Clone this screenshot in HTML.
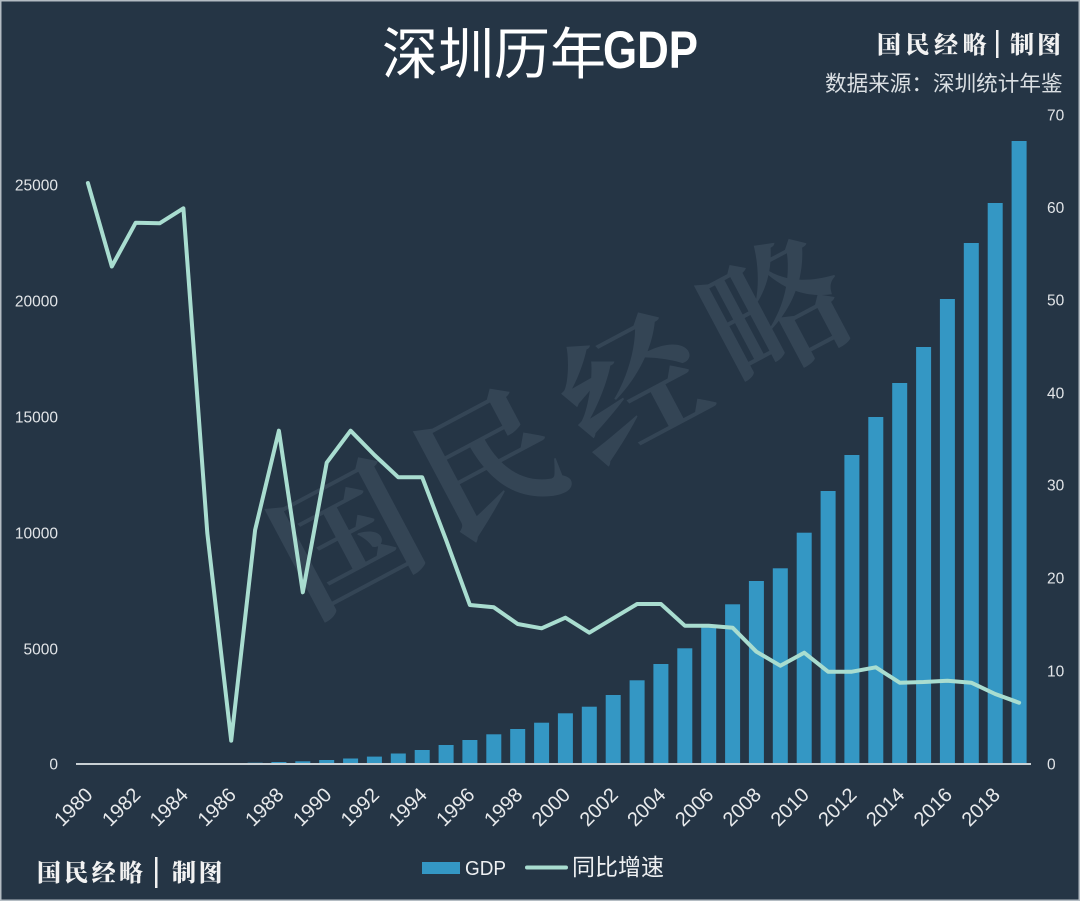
<!DOCTYPE html>
<html>
<head>
<meta charset="utf-8">
<style>
  html, body { margin:0; padding:0; background:#253545; }
  body { width:1080px; height:901px; overflow:hidden; }
  svg { display:block; }
  .num { font-family:"Liberation Sans", sans-serif; font-size:15.5px; fill:#e2e5e8; }
  .yr { font-family:"Liberation Sans", sans-serif; font-size:20px; fill:#e8eaec; }
  .cjk { font-family:"Liberation Sans","Noto Sans CJK SC", sans-serif; }
  .logo { font-family:"Noto Serif CJK SC","Liberation Serif", serif; font-weight:900; fill:#f2f2f2; }
</style>
</head>
<body>
<svg width="1080" height="901" viewBox="0 0 1080 901" xmlns="http://www.w3.org/2000/svg">
  <rect x="0" y="0" width="1080" height="901" fill="#253545"/>
  <rect x="0.75" y="0.75" width="1078.5" height="899.5" fill="none" stroke="#b4bcc3" stroke-width="1.5"/>

  <!-- watermark -->
  <text x="0" y="0" font-family="Noto Serif CJK SC, serif" font-weight="700" font-size="140" fill="#8fa3b3" fill-opacity="0.15" text-anchor="middle" letter-spacing="22" transform="translate(595,465) rotate(-28)">国民经略</text>

  <!-- title -->
  <text class="cjk" x="382" y="74" font-size="56" fill="#ffffff">深圳历年</text>
  <text x="603" y="68" font-family="Liberation Sans, sans-serif" font-weight="bold" font-size="53" fill="#ffffff" textLength="95" lengthAdjust="spacingAndGlyphs">GDP</text>

  <!-- top right logo -->
  <text class="logo" x="877" y="53" font-size="24" letter-spacing="4.5">国民经略</text>
  <rect x="996" y="30" width="2.5" height="28" fill="#f2f2f2"/>
  <text class="logo" x="1010" y="53" font-size="24" letter-spacing="3">制图</text>
  <text class="cjk" x="825" y="91" font-size="21.6" fill="#dadfe3">数据来源：深圳统计年鉴</text>

  <!-- left axis labels -->
  <g class="num" text-anchor="end">
    <text x="58" y="190.5">25000</text>
    <text x="58" y="306.5">20000</text>
    <text x="58" y="422.5">15000</text>
    <text x="58" y="538.5">10000</text>
    <text x="58" y="654.5">5000</text>
    <text x="58" y="769.5">0</text>
  </g>
  <!-- right axis labels -->
  <g class="num">
    <text x="1047" y="120.5">70</text>
    <text x="1047" y="213">60</text>
    <text x="1047" y="305.5">50</text>
    <text x="1047" y="398.5">40</text>
    <text x="1047" y="490.5">30</text>
    <text x="1047" y="583.5">20</text>
    <text x="1047" y="676.5">10</text>
    <text x="1047" y="769.5">0</text>
  </g>

  <!-- bars -->
  <g fill="#3497c4">
    <rect x="80.4" y="763.9" width="15" height="0.1"/>
    <rect x="104.3" y="763.9" width="15" height="0.1"/>
    <rect x="128.2" y="763.8" width="15" height="0.2"/>
    <rect x="152.1" y="763.7" width="15" height="0.3"/>
    <rect x="175.9" y="763.5" width="15" height="0.5"/>
    <rect x="199.8" y="763.1" width="15" height="0.9"/>
    <rect x="223.7" y="763.0" width="15" height="1.0"/>
    <rect x="247.6" y="762.7" width="15" height="1.3"/>
    <rect x="271.4" y="762.0" width="15" height="2.0"/>
    <rect x="295.3" y="761.3" width="15" height="2.7"/>
    <rect x="319.2" y="760.0" width="15" height="4.0"/>
    <rect x="343.1" y="758.5" width="15" height="5.5"/>
    <rect x="366.9" y="756.6" width="15" height="7.4"/>
    <rect x="390.8" y="753.5" width="15" height="10.5"/>
    <rect x="414.7" y="750" width="15" height="14"/>
    <rect x="438.6" y="745" width="15" height="19"/>
    <rect x="462.4" y="740" width="15" height="24"/>
    <rect x="486.3" y="734.3" width="15" height="29.7"/>
    <rect x="510.2" y="729" width="15" height="35"/>
    <rect x="534.1" y="722.7" width="15" height="41.3"/>
    <rect x="557.9" y="713.3" width="15" height="50.7"/>
    <rect x="581.8" y="706.7" width="15" height="57.3"/>
    <rect x="605.7" y="695" width="15" height="69"/>
    <rect x="629.6" y="680.3" width="15" height="83.7"/>
    <rect x="653.4" y="664" width="15" height="100"/>
    <rect x="677.3" y="648.3" width="15" height="115.7"/>
    <rect x="701.2" y="625" width="15" height="139"/>
    <rect x="725.1" y="604.3" width="15" height="159.7"/>
    <rect x="748.9" y="581" width="15" height="183"/>
    <rect x="772.8" y="568.3" width="15" height="195.7"/>
    <rect x="796.7" y="532.7" width="15" height="231.3"/>
    <rect x="820.6" y="491" width="15" height="273"/>
    <rect x="844.4" y="455" width="15" height="309"/>
    <rect x="868.3" y="417" width="15" height="347"/>
    <rect x="892.2" y="383" width="15" height="381"/>
    <rect x="916.1" y="347" width="15" height="417"/>
    <rect x="939.9" y="299" width="15" height="465"/>
    <rect x="963.8" y="243" width="15" height="521"/>
    <rect x="987.7" y="203" width="15" height="561"/>
    <rect x="1011.6" y="141" width="15" height="623"/>
  </g>

  <!-- axis line -->
  <line x1="76" y1="764" x2="1031" y2="764" stroke="#c9d0d4" stroke-width="2"/>

  <!-- growth line -->
  <polyline fill="none" stroke="#a9ddd0" stroke-width="4" stroke-linejoin="round" stroke-linecap="round"
    points="87.9,183 111.8,266.5 135.7,222.7 159.6,223.3 183.4,208.3 207.3,533 231.2,740.7 255.1,530 278.9,430.7 302.8,592.3 326.7,462.7 350.6,430.7 374.4,455 398.3,477.3 422.2,477.3 446.1,540 469.9,605 493.8,607.3 517.7,624 541.6,628.3 565.4,617.7 589.3,632.7 613.2,618.3 637.1,604 660.9,604 684.8,625.7 708.7,625.7 732.6,627.7 756.4,651.7 780.3,665.7 804.2,652.7 828.1,671.7 851.9,671.7 875.8,667.3 899.7,682.7 923.6,682 947.4,680.7 971.3,682.7 995.2,694 1019.1,702.7"/>

  <!-- x labels -->
  <g class="yr" text-anchor="end">
    <text transform="translate(93.9,796) rotate(-45)">1980</text>
    <text transform="translate(141.7,796) rotate(-45)">1982</text>
    <text transform="translate(189.4,796) rotate(-45)">1984</text>
    <text transform="translate(237.2,796) rotate(-45)">1986</text>
    <text transform="translate(284.9,796) rotate(-45)">1988</text>
    <text transform="translate(332.7,796) rotate(-45)">1990</text>
    <text transform="translate(380.4,796) rotate(-45)">1992</text>
    <text transform="translate(428.2,796) rotate(-45)">1994</text>
    <text transform="translate(475.9,796) rotate(-45)">1996</text>
    <text transform="translate(523.7,796) rotate(-45)">1998</text>
    <text transform="translate(571.4,796) rotate(-45)">2000</text>
    <text transform="translate(619.2,796) rotate(-45)">2002</text>
    <text transform="translate(666.9,796) rotate(-45)">2004</text>
    <text transform="translate(714.7,796) rotate(-45)">2006</text>
    <text transform="translate(762.4,796) rotate(-45)">2008</text>
    <text transform="translate(810.2,796) rotate(-45)">2010</text>
    <text transform="translate(857.9,796) rotate(-45)">2012</text>
    <text transform="translate(905.7,796) rotate(-45)">2014</text>
    <text transform="translate(953.4,796) rotate(-45)">2016</text>
    <text transform="translate(1001.2,796) rotate(-45)">2018</text>
  </g>

  <!-- legend -->
  <rect x="422" y="862" width="38" height="12" fill="#3497c4"/>
  <text x="465" y="875" font-family="Liberation Sans, sans-serif" font-size="20" fill="#eef0f2" textLength="41" lengthAdjust="spacingAndGlyphs">GDP</text>
  <line x1="527" y1="867.5" x2="566" y2="867.5" stroke="#a9ddd0" stroke-width="4" stroke-linecap="round"/>
  <text class="cjk" x="572" y="875" font-size="23" fill="#eef0f2">同比增速</text>

  <!-- bottom-left logo -->
  <text class="logo" x="37" y="881" font-size="24" letter-spacing="3.3">国民经略</text>
  <rect x="155" y="857" width="2.5" height="31" fill="#f2f2f2"/>
  <text class="logo" x="172" y="881" font-size="24" letter-spacing="2.5">制图</text>
</svg>
</body>
</html>
